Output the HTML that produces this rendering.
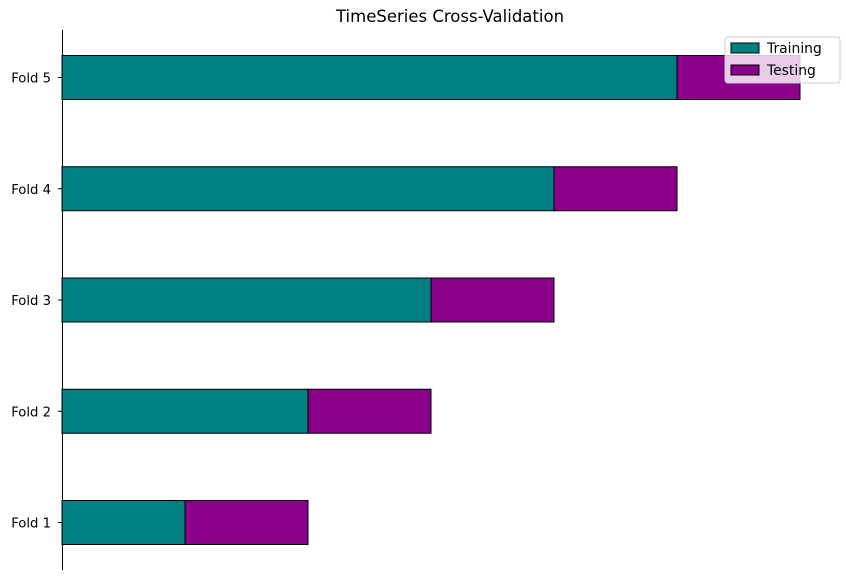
<!DOCTYPE html>
<html><head><meta charset="utf-8"><style>
body{margin:0;background:#fff}
svg{font-family:"DejaVu Sans","Liberation Sans",sans-serif}
</style></head><body>
<svg id="c" width="846" height="579">
<text x="450" y="22" text-anchor="middle" font-size="16.5">TimeSeries Cross-Validation</text>
<line x1="62.5" y1="30" x2="62.5" y2="570" stroke="#000" stroke-width="1"/>
<g id="bars"></g>
<g>
<rect x="725" y="37" width="115" height="46" fill="#fff" fill-opacity="0.8" stroke="#ccc" rx="3"/>
<rect x="731" y="43" width="28" height="10" fill="#008080" stroke="#000"/>
<text x="767" y="53" font-size="13.9">Training</text>
<rect x="731" y="65" width="28" height="10" fill="#8b008b" stroke="#000"/>
<text x="767" y="75" font-size="13.9">Testing</text>
</g>
</svg>
<script>
const folds=["Fold 1","Fold 2","Fold 3","Fold 4","Fold 5"];
const trainEnd=[1,2,3,4,5];
const testLen=[1,1,1,1,1];
const ns="http://www.w3.org/2000/svg";
const g=document.getElementById('bars');
const xs=v=>62+v*123;
const ys=i=>522.5-i*111.25;
const h=44;
folds.forEach((f,i)=>{
  const cy=ys(i);
  const r1=document.createElementNS(ns,'rect');
  
  
  r1.setAttribute('x',xs(0));r1.setAttribute('y',cy-h/2);
  r1.setAttribute('width',xs(trainEnd[i])-xs(0));r1.setAttribute('height',h);
  r1.setAttribute('fill','#008080');r1.setAttribute('stroke','#000');
  g.appendChild(r1);
  const r2=document.createElementNS(ns,'rect');
  
  
  r2.setAttribute('x',xs(trainEnd[i]));r2.setAttribute('y',cy-h/2);
  r2.setAttribute('width',xs(trainEnd[i]+testLen[i])-xs(trainEnd[i]));r2.setAttribute('height',h);
  r2.setAttribute('fill','#8b008b');r2.setAttribute('stroke','#000');
  g.appendChild(r2);
  const tk=document.createElementNS(ns,'line');
  
  
  tk.setAttribute('x1',58);tk.setAttribute('x2',62);tk.setAttribute('y1',cy);tk.setAttribute('y2',cy);
  tk.setAttribute('stroke','#000');
  g.appendChild(tk);
  const t=document.createElementNS(ns,'text');
  
  
  t.setAttribute('x',51);t.setAttribute('y',cy+5);t.setAttribute('text-anchor','end');
  t.setAttribute('font-size','13.2');t.textContent=f;
  g.appendChild(t);
});
</script>
</body></html>
